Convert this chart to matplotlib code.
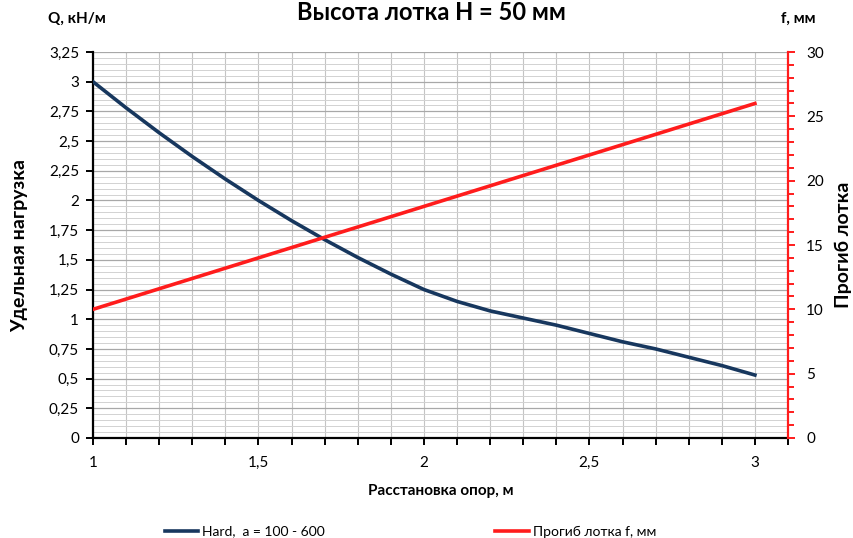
import matplotlib
matplotlib.use('Agg')
import matplotlib.pyplot as plt
from matplotlib.ticker import MultipleLocator, FuncFormatter

plt.rcParams['font.family'] = ['Lato', 'DejaVu Sans']

# span between supports, m
span = [1.0, 1.1, 1.2, 1.3, 1.4, 1.5, 1.6, 1.7, 1.8, 1.9, 2.0,
        2.1, 2.2, 2.3, 2.4, 2.5, 2.6, 2.7, 2.8, 2.9, 3.0]
# specific load Q, kN/m (Hard, a = 100 - 600)
load_q = [3.0, 2.78, 2.57, 2.37, 2.18, 2.0, 1.83, 1.67, 1.52, 1.38, 1.25,
          1.15, 1.07, 1.01, 0.95, 0.88, 0.81, 0.75, 0.68, 0.61, 0.53]
# tray deflection f, mm
deflection = [10.0, 10.8, 11.6, 12.4, 13.2, 14.0, 14.8, 15.6, 16.4, 17.2, 18.0,
              18.8, 19.6, 20.4, 21.2, 22.0, 22.8, 23.6, 24.4, 25.2, 26.0]

label_q = 'Hard,  a = 100 - 600'
label_f = 'Прогиб лотка f, мм'

def comma(v, pos):
    s = ('%.2f' % v).rstrip('0').rstrip('.')
    return s.replace('.', ',')

fig = plt.figure(figsize=(8.54, 5.38), dpi=100)
ax = fig.add_axes([0.1089, 0.1859, 0.8138, 0.7174])
ax2 = ax.twinx()

ax.set_xlim(1, 3.1)
ax.set_ylim(0, 3.25)
ax2.set_ylim(0, 30)

ax.xaxis.set_major_locator(MultipleLocator(0.5))
ax.xaxis.set_minor_locator(MultipleLocator(0.1))
ax.yaxis.set_major_locator(MultipleLocator(0.25))
ax.yaxis.set_minor_locator(MultipleLocator(0.05))
ax2.yaxis.set_major_locator(MultipleLocator(5))
ax2.yaxis.set_minor_locator(MultipleLocator(1))
ax.xaxis.set_major_formatter(FuncFormatter(comma))
ax.yaxis.set_major_formatter(FuncFormatter(comma))

ax.grid(which='major', axis='y', color='#a8a8a8', lw=0.9)
ax.grid(which='minor', axis='y', color='#d2d2d2', lw=0.7)
ax.grid(which='both', axis='x', color='#c4c4c4', lw=0.8)
ax.set_axisbelow(True)

l1, = ax.plot(span, load_q, color='#17375e', lw=2.6, label=label_q, zorder=3)
l2, = ax2.plot(span, deflection, color='#ff1c1c', lw=2.6, label=label_f, zorder=3)

ax.spines['top'].set_visible(False)
ax2.spines['top'].set_visible(False)
ax.spines['left'].set_linewidth(1.6)
ax.spines['bottom'].set_linewidth(1.6)
ax.spines['right'].set_visible(False)
ax2.spines['left'].set_visible(False)
ax2.spines['bottom'].set_visible(False)
ax2.spines['right'].set_color('#ff1c1c')
ax2.spines['right'].set_linewidth(1.6)

ax.tick_params(axis='both', which='major', labelsize=11, length=5, width=1.4, color='black')
ax.tick_params(axis='y', which='major', pad=5)
ax.tick_params(axis='x', which='major', pad=8)
ax.tick_params(axis='x', which='minor', length=5, width=1.4)
ax.tick_params(axis='y', which='minor', length=0)
ax2.tick_params(axis='y', which='major', labelsize=11, length=5, width=1.4, color='#ff1c1c', pad=8)
ax2.tick_params(axis='y', which='minor', length=4, width=1.4, color='#ff1c1c')

ax.set_xlabel('Расстановка опор, м', fontsize=11, fontweight='bold', labelpad=10)
ax.set_ylabel('Удельная нагрузка', fontsize=14, fontweight='bold')
ax2.set_ylabel('Прогиб лотка', fontsize=14, fontweight='bold')
ax.yaxis.set_label_coords(-0.094, 0.5)
ax2.yaxis.set_label_coords(1.067, 0.5)

fig.text(0.056, 0.965, 'Q, кН/м', fontsize=11, fontweight='bold', ha='left', va='center')
fig.text(0.915, 0.965, 'f, мм', fontsize=11, fontweight='bold', ha='left', va='center')
fig.text(0.505, 0.999, 'Высота лотка H = 50 мм', fontsize=17, fontweight='bold',
         ha='center', va='top')

fig.legend([l1], [label_q], loc='center left', bbox_to_anchor=(0.193, 0.012),
           frameon=False, fontsize=10, handlelength=2.4, handletextpad=0.3,
           borderpad=0, borderaxespad=0)
fig.legend([l2], [label_f], loc='center left', bbox_to_anchor=(0.58, 0.012),
           frameon=False, fontsize=10, handlelength=2.4, handletextpad=0.3,
           borderpad=0, borderaxespad=0)

fig.savefig('out.png', dpi=100)
